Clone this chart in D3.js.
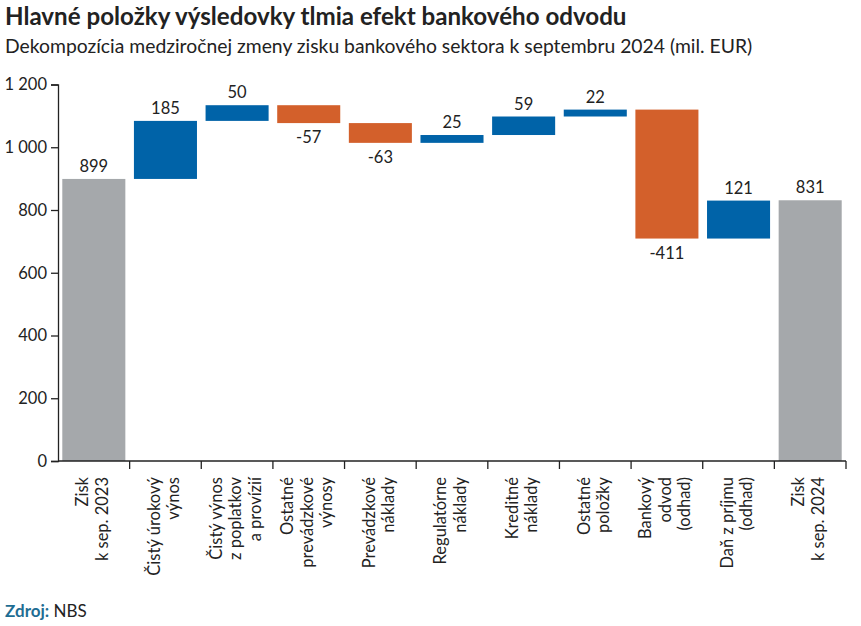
<!DOCTYPE html>
<html><head><meta charset="utf-8">
<script src="https://cdn.jsdelivr.net/npm/d3@7"></script>
<style>
body{margin:0;background:#fff;}
svg{display:block;font-family:Lato,"Open Sans",sans-serif;}
</style></head>
<body><svg id="c" width="861" height="626"></svg>
<script>
const categories = [
  ["Zisk","k sep. 2023"],
  ["Čistý úrokový","výnos"],
  ["Čistý výnos","z poplatkov","a provízií"],
  ["Ostatné","prevádzkové","výnosy"],
  ["Prevádzkové","náklady"],
  ["Regulatórne","náklady"],
  ["Kreditné","náklady"],
  ["Ostatné","položky"],
  ["Bankový","odvod","(odhad)"],
  ["Daň z príjmu","(odhad)"],
  ["Zisk","k sep. 2024"]
];
const values = [899, 185, 50, -57, -63, 25, 59, 22, -411, 121, 831];
const kinds = ["total","delta","delta","delta","delta","delta","delta","delta","delta","delta","total"];
const yTicks = [0, 200, 400, 600, 800, 1000, 1200];
const colors = {total:"#a5a8ab", up:"#0063a8", down:"#d3602b"};

const svg = d3.select("#c");
const x = d3.scaleBand().domain(d3.range(categories.length)).range([58, 846]).paddingInner(0.12).paddingOuter(0.06);
const y = d3.scaleLinear().domain([0, 1200]).range([461, 84.5]);

// waterfall
let cum = 0;
const bars = values.map((v, i) => {
  let a, b;
  if (kinds[i] === "total") { a = 0; b = v; cum = v; }
  else { a = cum; b = cum + v; cum = b; }
  return {i, v, lo: Math.min(a,b), hi: Math.max(a,b), kind: kinds[i]};
});

svg.selectAll("rect.bar").data(bars).join("rect")
  .attr("x", d => x(d.i)).attr("width", x.bandwidth())
  .attr("y", d => y(d.hi)).attr("height", d => y(d.lo) - y(d.hi))
  .attr("fill", d => d.kind === "total" ? colors.total : (d.v >= 0 ? colors.up : colors.down));

svg.selectAll("text.val").data(bars).join("text")
  .attr("x", d => x(d.i) + x.bandwidth()/2)
  .attr("y", d => (d.kind === "total" || d.v >= 0) ? y(d.hi) - 7 : y(d.lo) + 20)
  .attr("text-anchor", "middle").attr("font-size", 16.5).attr("fill", "#222")
  .text(d => d.v);

// y axis
const ya = svg.append("g").attr("transform", "translate(58,0)")
  .call(d3.axisLeft(y).tickValues(yTicks).tickSize(7).tickPadding(4)
    .tickFormat(d => d3.format(",")(d).replace(/,/g, " ")));
ya.select(".domain").attr("stroke", "#222").attr("stroke-width", 1.3);
ya.selectAll(".tick line").attr("stroke", "#222").attr("stroke-width", 1.3);
ya.selectAll(".tick text").attr("font-size", 16.5).attr("fill", "#222").attr("font-family", "Lato,sans-serif");

// x axis baseline with boundary ticks
const bounds = d3.range(categories.length + 1).map(i => i < categories.length ? x(i) - x.step()*x.paddingInner()/2 : x(i-1) + x.bandwidth() + x.step()*x.paddingInner()/2);
svg.append("line").attr("x1", 58).attr("x2", bounds[bounds.length-1]).attr("y1", y(0)).attr("y2", y(0)).attr("stroke", "#222").attr("stroke-width", 1.3);
svg.selectAll("line.bt").data(bounds.slice(1)).join("line")
  .attr("x1", d => d).attr("x2", d => d).attr("y1", y(0)).attr("y2", y(0) + 8)
  .attr("stroke", "#222").attr("stroke-width", 1.3);

// x labels
const lh = 19.5;
const xl = svg.selectAll("g.xl").data(categories).join("g")
  .attr("transform", (d, i) => `translate(${x(i) + x.bandwidth()/2 - 2},477) rotate(-90)`);
xl.append("text").attr("text-anchor", "end").attr("font-size", 16.5).attr("fill", "#222")
  .selectAll("tspan").data(d => d.map((t, j) => ({t, j, n: d.length}))).join("tspan")
  .attr("x", 0).attr("y", d => (d.j - (d.n - 1)/2) * lh).attr("dominant-baseline", "central")
  .text(d => d.t);

// titles
const t1 = svg.append("text").attr("x", 5).attr("y", 25).attr("font-size", 23).attr("font-weight", "bold").attr("fill", "#222")
  .text("Hlavné položky výsledovky tlmia efekt bankového odvodu");
const t2 = svg.append("text").attr("x", 5).attr("y", 53).attr("font-size", 18.5).attr("fill", "#222")
  .text("Dekompozícia medziročnej zmeny zisku bankového sektora k septembru 2024 (mil. EUR)");
function fit(sel, w){ const L = sel.node().getComputedTextLength(); sel.attr("font-size", +sel.attr("font-size") * w / L); }
fit(t1, 622); fit(t2, 748);

const src = svg.append("text").attr("x", 5).attr("y", 617).attr("font-size", 17);
src.append("tspan").attr("font-weight", "bold").attr("fill", "#1f6d93").text("Zdroj:");
src.append("tspan").attr("fill", "#222").text(" NBS");
</script></body></html>
